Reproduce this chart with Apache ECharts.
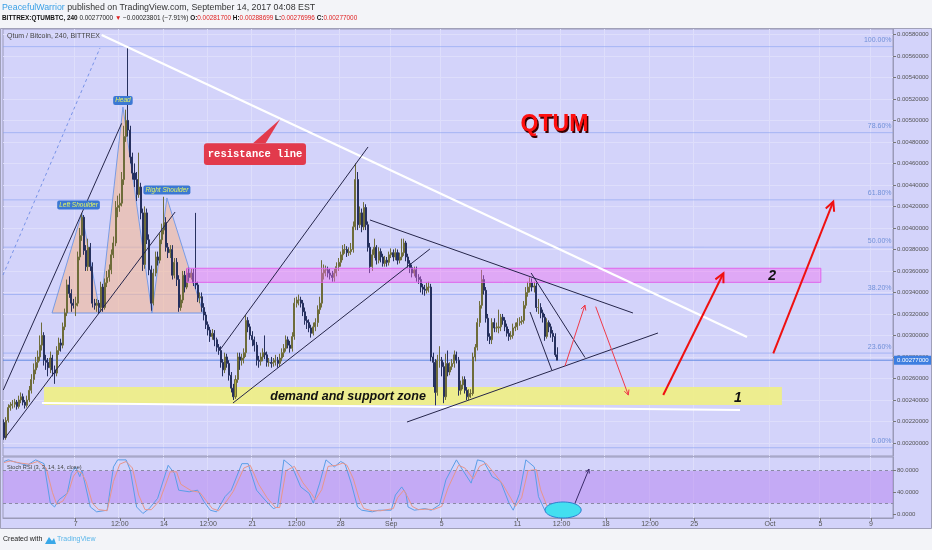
<!DOCTYPE html>
<html><head><meta charset="utf-8">
<script src="https://cdn.jsdelivr.net/npm/echarts@6.0.0/dist/echarts.min.js"></script>
<style>html,body{margin:0;padding:0;background:#f1f3f8;overflow:hidden}#c{width:932px;height:550px}</style>
</head><body><div id="c"></div><script>
// ---------- DATA (prices in units of 0.00001 BTC) ----------
const candles = [
[219,205,203,222],[205,221,203,224],[221,233,219,236],[233,235,230,238],[235,236,232,240],[236,238,233,241],[238,234,231,240],[234,240,232,244],[240,243,237,247],[243,238,235,246],
[238,235,232,240],[235,240,233,244],[240,249,238,253],[249,259,246,264],[259,268,255,274],[268,275,264,280],[275,280,270,286],[280,291,276,300],[291,300,286,312],[300,277,272,303],
[277,275,268,282],[275,270,262,279],[270,279,265,285],[279,268,262,282],[268,265,255,272],[265,286,262,290],[286,293,282,298],[293,291,285,297],[291,308,288,312],[308,321,305,325],
[321,347,318,352],[347,339,335,355],[339,330,322,343],[330,328,325,334],[328,330,318,336],[330,373,327,378],[373,393,370,400],[393,410,388,414],[410,379,375,412],[379,364,360,384],
[364,382,360,390],[382,364,360,386],[364,330,326,368],[330,328,324,334],[328,330,322,334],[330,326,320,333],[326,345,322,350],[345,326,322,348],[326,349,324,353],[349,354,345,360],
[354,361,350,366],[361,375,357,380],[375,386,372,392],[386,419,383,425],[419,421,410,430],[421,423,415,432],[423,445,420,452],[445,485,440,495],[485,500,480,510],[500,491,485,568],
[491,466,460,495],[466,451,445,470],[451,445,438,460],[445,431,425,452],[431,438,428,470],[438,414,408,442],[414,366,360,418],[366,414,362,420],[414,389,385,418],[389,361,356,394],
[361,330,323,365],[330,358,328,362],[358,373,355,378],[373,370,365,378],[370,389,367,395],[389,398,385,404],[398,405,394,429],[405,382,378,410],[382,377,372,386],[377,380,372,384],
[380,356,352,384],[356,368,353,372],[368,352,346,372],[352,326,322,356],[326,333,323,338],[333,356,330,360],[356,345,340,360],[345,358,343,362],[358,354,350,363],[354,358,352,362],
[358,349,346,362],[349,347,343,414],[347,335,331,350],[335,336,330,340],[336,326,322,340],[326,319,314,330],[319,310,306,322],[310,305,300,313],[305,299,294,308],[299,302,296,306],
[302,296,290,305],[296,289,285,298],[289,286,282,292],[286,275,270,290],[275,268,262,278],[268,280,265,284],[280,274,270,283],[274,263,258,277],[263,251,247,266],[251,243,240,255],
[243,259,241,263],[259,280,256,284],[280,277,268,284],[277,279,272,283],[279,284,274,288],[284,314,280,319],[314,308,303,317],[308,300,296,311],[300,296,290,304],[296,291,285,299],
[291,277,272,294],[277,276,270,281],[276,280,272,284],[280,284,276,288],[284,282,278,300],[282,275,271,285],[275,275,271,279],[275,274,270,280],[274,275,271,279],[275,277,272,282],
[277,274,270,280],[274,279,271,283],[279,284,276,288],[284,288,280,292],[288,296,285,300],[296,291,288,299],[291,288,284,295],[288,299,285,303],[299,330,296,335],[330,333,326,336],
[333,333,328,338],[333,330,326,336],[330,322,318,333],[322,314,310,326],[314,312,306,318],[312,307,303,315],[307,302,298,310],[302,308,300,312],[308,312,304,316],[312,324,308,328],
[324,330,320,336],[330,358,326,370],[358,361,352,366],[361,361,355,365],[361,358,354,364],[358,356,352,362],[356,354,350,360],[354,358,350,362],[358,364,355,368],[364,368,360,372],
[368,375,364,378],[375,380,370,384],[380,380,376,385],[380,377,373,383],[377,378,374,382],[378,380,375,386],[380,401,377,406],[401,445,398,460],[445,403,398,452],[403,414,400,420],
[414,401,396,418],[401,419,398,424],[419,403,398,422],[403,382,378,406],[382,364,358,386],[364,375,360,380],[375,382,372,390],[382,370,366,384],[370,378,367,382],[378,373,368,381],
[373,367,364,376],[367,370,364,374],[370,368,364,373],[368,375,365,378],[375,377,372,381],[377,373,369,380],[373,377,370,381],[377,370,366,380],[370,373,367,377],[373,377,370,390],
[377,386,374,390],[386,373,369,388],[373,367,363,376],[367,363,358,370],[363,358,354,366],[358,361,355,364],[361,354,350,364],[354,352,348,357],[352,345,340,355],[345,343,338,348],
[343,342,337,347],[342,345,339,349],[345,345,340,350],[345,280,276,348],[280,275,252,284],[275,247,235,278],[247,277,244,282],[277,277,270,290],[277,271,262,280],[271,243,237,275],
[243,274,240,283],[274,266,262,286],[266,271,263,275],[271,274,268,278],[274,282,270,286],[282,277,274,285],[277,249,244,280],[249,254,245,258],[254,259,250,262],[259,249,246,262],
[249,243,240,252],[243,246,240,250],[246,246,242,250],[246,280,244,284],[280,289,276,292],[289,312,286,316],[312,328,308,332],[328,352,325,361],[352,342,338,356],[342,316,312,345],
[316,299,295,320],[299,296,292,302],[296,312,292,316],[312,307,303,316],[307,307,303,312],[307,308,302,324],[308,317,304,320],[317,314,310,320],[314,308,304,317],[308,302,299,311],
[302,299,295,306],[299,300,296,304],[300,307,297,311],[307,308,304,312],[308,312,305,316],[312,313,309,317],[313,314,310,318],[314,328,311,332],[328,340,325,345],[340,345,336,350],
[345,349,340,354],[349,345,341,353],[345,346,340,350],[346,326,322,349],[326,326,320,334],[326,321,316,330],[321,317,312,324],[317,299,295,320],[299,312,297,316],[312,308,303,314],
[308,302,298,311],[302,299,294,305],[299,282,280,302],[282,277,277,289]
];
const stochK = [[0,97],[2,100],[6,95],[11,90],[15,100],[19,93],[22,20],[24,13],[26,26],[30,38],[32,75],[34,87],[36,69],[37,81],[41,13],[44,4],[49,7],[52,87],[54,100],[58,100],[60,81],[63,13],[66,1],[69,10],[73,29],[78,90],[81,75],[83,44],[88,41],[92,44],[95,23],[98,7],[101,4],[105,32],[108,44],[113,93],[116,93],[120,44],[124,26],[128,10],[130,13],[133,100],[137,87],[141,50],[145,38],[147,20],[150,57],[153,100],[157,87],[160,97],[162,93],[165,57],[168,13],[170,7],[175,4],[178,7],[184,7],[186,35],[189,50],[191,38],[192,13],[195,7],[200,10],[203,7],[207,17],[210,63],[215,100],[218,81],[222,57],[225,100],[228,97],[232,69],[236,60],[240,20],[242,7],[245,38],[248,100],[252,87],[254,32],[257,7],[261,1],[263,0]];
const stochD = [[0,95],[3,98],[8,94],[12,92],[16,97],[20,85],[23,40],[25,18],[28,24],[31,45],[33,70],[35,80],[37,75],[39,60],[42,20],[45,8],[49,6],[52,60],[55,92],[58,97],[61,85],[64,35],[67,8],[70,8],[74,25],[79,78],[82,78],[84,55],[89,43],[93,40],[96,25],[99,10],[102,6],[106,25],[109,42],[114,85],[117,90],[121,55],[125,30],[129,12],[131,12],[134,80],[138,88],[142,58],[146,38],[148,26],[151,45],[154,88],[158,90],[161,94],[163,90],[166,65],[169,25],[171,10],[175,6],[179,6],[185,10],[187,30],[190,44],[192,30],[194,14],[197,8],[201,9],[204,8],[208,14],[211,48],[216,90],[219,85],[223,65],[226,88],[229,94],[233,75],[237,55],[241,28],[243,14],[246,30],[249,80],[253,82],[255,45],[258,15],[262,4],[263,2]];
const priceTicks = [200,220,240,260,280,300,320,340,360,380,400,420,440,460,480,500,520,540,560,580];
const stochTicks = [0,40,80];
const stochBand = [20,80];
const timeTicks = [['08-07 00:00','7'],['08-10 12:00','12:00'],['08-14 00:00','14'],['08-17 12:00','12:00'],['08-21 00:00','21'],['08-24 12:00','12:00'],['08-28 00:00','28'],['09-01 00:00','Sep'],['09-05 00:00','5'],['09-11 00:00','11'],['09-14 12:00','12:00'],['09-18 00:00','18'],['09-21 12:00','12:00'],['09-25 00:00','25'],['10-01 00:00','Oct'],['10-05 00:00','5'],['10-09 00:00','9']];
const fibLevels = [[568.6,'100.00%'],[488.6,'78.60%'],[426.1,'61.80%'],[382.1,'50.00%'],[338.1,'38.20%'],[283.6,'23.60%'],[195.6,'0.00%']];
const lastPrice = 277;
// drawings, in (candle index, price) units
const resistanceLine = [[46.4,579.4],[353.1,298.6]];
const supportLine = [[18,237.2],[349.8,230.7]];
const blackLines = [
  [[-0.36,249.3],[55.9,497.3]], [[0.45,204.7],[81.3,414.8]],
  [[102.6,286.5],[173,475.3]], [[108.8,237.2],[202.4,380.4]],
  [[173.9,407.4],[298.9,320.9]], [[191.5,219.5],[310.8,302.3]],
  [[250.5,358.1],[276.1,279.5]], [[250,321.8],[260.3,267.9]]
];
const fibTrendLine = [[-0.5,356.2],[45.6,567.4]];
const thinArrows = [[[266.6,271.6],[276.1,328.3]], [[281.2,326.8],[296.7,244.6]]];
const thickArrows = [[[313.3,244.6],[341.9,357.8]], [[365.6,283.4],[394.1,424.4]]];
const hsPolygon = [[22.8,320.9],[37.0,413.9],[45.6,320.9],[56.5,512.5],[70.3,320.9],[77.4,427.9],[94.6,320.9]];
const pinkZone = [[86.8,349.4],[388.2,362.5]];
const yellowZone = [[19.0,235.3],[369.7,252]];
const calloutBox = [[95,478.7],[143.5,458.5]];
const calloutTip = [[118.3,478.7],[131.2,501],[124.3,478.7]];
const notes = [['QTUM',[261.6,495.7]],['demand and support zone',[163.5,242.8]],['1',[348.8,241.9]],['2',[365,355.3]],['resistance line',[119.3,468.6]]];
const patternLabels = [['Head',[56.5,518.5]],['Left Shoulder',[35.4,421.3]],['Right Shoulder',[77.4,435.3]]];
const stochEllipse = [265.7,7.4,8.6,14.8];
const stochArrow = [[271.4,20.3],[278,83]];

// ---------- AXIS SLOTS (4h bars from Aug 1 08:00) ----------
const categories = [];
for (let i = 0; i < 423; i++) {
  const d = new Date(Date.UTC(2017, 7, 1, 8) + i * 4 * 3600 * 1000);
  const p = n => String(n).padStart(2, '0');
  categories.push(p(d.getUTCMonth() + 1) + '-' + p(d.getUTCDate()) + ' ' + p(d.getUTCHours()) + ':00');
}
const tickMap = new Map(timeTicks);
const isTick = (idx, val) => tickMap.has(val);

const SANS = '"Liberation Sans", Arial, sans-serif';
const BG = '#d3d3fa';
const GRIDLINE = '#dedefb';
const AXISC = '#9a9ab8';

function ln(api, a, b, stroke, w, dash) {
  const p1 = api.coord(a), p2 = api.coord(b);
  return {type: 'line', shape: {x1: p1[0], y1: p1[1], x2: p2[0], y2: p2[1]}, style: {stroke, lineWidth: w, lineDash: dash || null}};
}
function arrow(api, a, b, stroke, w, head) {
  const p1 = api.coord(a), p2 = api.coord(b);
  const dx = p2[0] - p1[0], dy = p2[1] - p1[1], L = Math.hypot(dx, dy), ux = dx / L, uy = dy / L;
  const bx = p2[0] - ux * head, by = p2[1] - uy * head, nx = -uy * head * 0.5, ny = ux * head * 0.5;
  return [
    {type: 'line', shape: {x1: p1[0], y1: p1[1], x2: p2[0], y2: p2[1]}, style: {stroke, lineWidth: w}},
    {type: 'polyline', shape: {points: [[bx + nx, by + ny], [p2[0], p2[1]], [bx - nx, by - ny]]}, style: {stroke, lineWidth: w, fill: null}}
  ];
}
function rectEl(api, a, b, fill, stroke) {
  const p1 = api.coord(a), p2 = api.coord(b);
  return {type: 'rect', shape: {x: Math.min(p1[0], p2[0]), y: Math.min(p1[1], p2[1]), width: Math.abs(p2[0] - p1[0]), height: Math.abs(p2[1] - p1[1])}, style: {fill, stroke: stroke || null, lineWidth: 1}};
}

function renderUnder(params, api) {
  const ch = [];
  fibLevels.forEach(f => ch.push(ln(api, [-0.5, f[0]], [422.5, f[0]], 'rgba(135,160,240,0.6)', 1)));
  ch.push(rectEl(api, yellowZone[0], yellowZone[1], 'rgba(240,240,128,0.88)'));
  ch.push({type: 'polygon', shape: {points: hsPolygon.map(p => api.coord(p))}, style: {fill: 'rgba(245,185,150,0.6)', stroke: 'rgba(110,150,230,0.9)', lineWidth: 1}});
  ch.push(ln(api, [-0.5, lastPrice], [422.5, lastPrice], 'rgba(70,120,220,0.8)', 1));
  return {type: 'group', children: ch};
}

function renderOver(params, api) {
  const ch = [];
  ch.push(rectEl(api, pinkZone[0], pinkZone[1], 'rgba(240,110,240,0.42)', 'rgba(225,90,235,0.9)'));
  ch.push(ln(api, supportLine[0], supportLine[1], '#ffffff', 2));
  ch.push(ln(api, resistanceLine[0], resistanceLine[1], '#ffffff', 2.2));
  ch.push(ln(api, fibTrendLine[0], fibTrendLine[1], 'rgba(110,140,230,0.9)', 1, [3, 3]));
  blackLines.forEach(l => ch.push(ln(api, l[0], l[1], '#25254a', 1)));
  thinArrows.forEach(a => ch.push(...arrow(api, a[0], a[1], '#f03a4a', 1, 5)));
  thickArrows.forEach(a => ch.push(...arrow(api, a[0], a[1], '#f01010', 2, 9)));
  ch.push({type: 'polygon', shape: {points: calloutTip.map(p => api.coord(p))}, style: {fill: '#e23a4c'}});
  const b1 = api.coord(calloutBox[0]), b2 = api.coord(calloutBox[1]);
  ch.push({type: 'rect', shape: {x: b1[0], y: b1[1], width: b2[0] - b1[0], height: b2[1] - b1[1], r: 3}, style: {fill: '#e23a4c'}});
  fibLevels.forEach(f => {
    const p = api.coord([421.8, f[0]]);
    ch.push({type: 'text', x: p[0], y: p[1] - 3, style: {text: f[1], fill: '#7090d8', font: '7px ' + SANS, align: 'right', verticalAlign: 'bottom'}});
  });
  notes.forEach((n, k) => {
    const p = api.coord(n[1]);
    if (k === 0) {
      ch.push({type: 'text', x: p[0] + 1.5, y: p[1] + 1.5, style: {text: n[0], fill: '#3a0000', font: 'bold 23px ' + SANS, align: 'center', verticalAlign: 'middle'}});
      ch.push({type: 'text', x: p[0], y: p[1], style: {text: n[0], fill: '#ff1010', font: 'bold 23px ' + SANS, align: 'center', verticalAlign: 'middle'}});
    } else if (k === 4) {
      ch.push({type: 'text', x: p[0], y: p[1], style: {text: n[0], fill: '#ffffff', font: 'bold 10.5px "Liberation Mono", monospace', align: 'center', verticalAlign: 'middle'}});
    } else {
      const sz = k === 1 ? 12.5 : 14;
      ch.push({type: 'text', x: p[0], y: p[1], style: {text: n[0], fill: '#111111', font: 'italic bold ' + sz + 'px ' + SANS, align: 'center', verticalAlign: 'middle'}});
    }
  });
  patternLabels.forEach(l => {
    const p = api.coord(l[1]);
    ch.push({type: 'text', x: p[0], y: p[1], style: {text: l[0], fill: '#e4f560', font: 'italic 6.5px ' + SANS, align: 'center', verticalAlign: 'middle', backgroundColor: '#3b78d4', padding: [1, 2], borderRadius: 2}});
  });
  const lp = api.coord([422.5, lastPrice]);
  ch.push({type: 'text', x: lp[0] + 1, y: lp[1], style: {text: (lastPrice / 1e5).toFixed(8), fill: '#ffffff', font: '6px ' + SANS, align: 'left', verticalAlign: 'middle', backgroundColor: '#3d7ee0', padding: [2, 3, 1, 3]}});
  return {type: 'group', children: ch};
}

function renderStoch(params, api) {
  const c = api.coord([stochEllipse[0], stochEllipse[1]]);
  const s = api.size([stochEllipse[2], stochEllipse[3]]);
  const pts = [];
  for (let k = 0; k < 48; k++) { const a = k / 48 * Math.PI * 2; pts.push([c[0] + s[0] * Math.cos(a), c[1] + s[1] * Math.sin(a)]); }
  return {type: 'group', children: [
    {type: 'polygon', shape: {points: pts}, style: {fill: '#43dff0', stroke: '#2f7fd0', lineWidth: 1}},
    ...arrow(api, stochArrow[0], stochArrow[1], '#3a2a6a', 1, 4)
  ]};
}

const chart = echarts.init(document.getElementById('c'));
const xCat = (gi, labels) => ({
  type: 'category', gridIndex: gi, data: categories, boundaryGap: true,
  axisLine: {show: labels, onZero: false, lineStyle: {color: AXISC}},
  axisTick: {show: labels, interval: isTick, alignWithLabel: true, length: 3, lineStyle: {color: '#777'}},
  axisLabel: {show: labels, interval: isTick, formatter: v => tickMap.get(v) || '', fontSize: 7, color: '#555', margin: 3, fontFamily: SANS},
  splitLine: {show: true, interval: isTick, lineStyle: {color: GRIDLINE, width: 1}}
});
chart.setOption({
  animation: false,
  backgroundColor: BG,
  grid: [
    {left: 3, top: 29, width: 890, height: 427, show: true, borderColor: AXISC, borderWidth: 1, backgroundColor: 'transparent'},
    {left: 3, top: 457, width: 890, height: 61, show: true, borderColor: AXISC, borderWidth: 1, backgroundColor: 'transparent'}
  ],
  xAxis: [
    xCat(0, false), xCat(1, true),
    {type: 'value', gridIndex: 0, min: -0.5, max: 422.5, show: false},
    {type: 'value', gridIndex: 1, min: -0.5, max: 422.5, show: false}
  ],
  yAxis: [
    {type: 'value', gridIndex: 0, position: 'right', min: 187.9, max: 585.0,
     axisLine: {show: true, onZero: false, lineStyle: {color: AXISC}},
     axisTick: {show: true, length: 3, customValues: priceTicks, lineStyle: {color: '#777'}},
     axisLabel: {customValues: priceTicks, formatter: v => (v / 1e5).toFixed(8), fontSize: 6, color: '#555', margin: 4, fontFamily: SANS},
     splitLine: {show: true, lineStyle: {color: GRIDLINE}}},
    {type: 'value', gridIndex: 1, position: 'right', min: -7.4, max: 105.3,
     axisLine: {show: true, onZero: false, lineStyle: {color: AXISC}},
     axisTick: {show: true, length: 3, customValues: stochTicks, lineStyle: {color: '#777'}},
     axisLabel: {customValues: stochTicks, formatter: v => v.toFixed(4), fontSize: 6, color: '#555', margin: 4, fontFamily: SANS},
     splitLine: {show: false}}
  ],
  series: [
    {type: 'custom', xAxisIndex: 2, yAxisIndex: 0, z: 1, silent: true, data: [[0, 300]], renderItem: renderUnder},
    {type: 'candlestick', xAxisIndex: 0, yAxisIndex: 0, z: 3, data: candles, barWidth: '72%',
     itemStyle: {color: '#b4b23c', color0: '#22306a', borderColor: '#6e6c3a', borderColor0: '#26305e', borderWidth: 1}},
    {type: 'custom', xAxisIndex: 2, yAxisIndex: 0, z: 5, silent: true, data: [[0, 300]], renderItem: renderOver},
    {type: 'line', xAxisIndex: 1, yAxisIndex: 1, data: stochK, showSymbol: false, z: 4,
     lineStyle: {color: '#5a9ee8', width: 1},
     markArea: {silent: true, itemStyle: {color: 'rgba(181,129,239,0.5)'}, data: [[{yAxis: stochBand[0]}, {yAxis: stochBand[1]}]]},
     markLine: {silent: true, symbol: 'none', label: {show: false}, lineStyle: {color: '#8a8aa5', type: [3, 3], width: 1}, data: [{yAxis: stochBand[0]}, {yAxis: stochBand[1]}]}},
    {type: 'line', xAxisIndex: 1, yAxisIndex: 1, data: stochD, showSymbol: false, z: 4, lineStyle: {color: '#e8968c', width: 1}},
    {type: 'custom', xAxisIndex: 3, yAxisIndex: 1, z: 6, silent: true, data: [[0, 50]], renderItem: renderStoch}
  ],
  graphic: [
    {type: 'rect', z: 100, shape: {x: 0, y: 0, width: 932, height: 28.5}, style: {fill: '#f3f4f8'}},
    {type: 'rect', z: 100, shape: {x: 0, y: 528.5, width: 932, height: 22}, style: {fill: '#f3f4f8'}},
    {type: 'rect', z: 101, shape: {x: 0.5, y: 28.5, width: 931, height: 500}, style: {fill: null, stroke: '#a0a0b8', lineWidth: 1}},
    {type: 'text', z: 102, x: 2, y: 3, style: {text: '{a|PeacefulWarrior}{b| published on TradingView.com, September 14, 2017 04:08 EST}', font: '8.8px ' + SANS, rich: {a: {fill: '#3aa0e6', font: '8.8px ' + SANS}, b: {fill: '#333', font: '8.8px ' + SANS}}}},
    {type: 'text', z: 102, x: 2, y: 15, style: {text: '{b|BITTREX:QTUMBTC, 240} {n|0.00277000} {r|\u25BC} {n|\u22120.00023801 (\u22127.91%)} {b|O:}{r|0.00281700} {b|H:}{r|0.00288699} {b|L:}{r|0.00276996} {b|C:}{r|0.00277000}', font: '6.4px ' + SANS, rich: {b: {fill: '#111', font: 'bold 6.4px ' + SANS}, n: {fill: '#222', font: '6.4px ' + SANS}, r: {fill: '#e02020', font: '6.4px ' + SANS}}}},
    {type: 'text', z: 102, x: 7, y: 33, style: {text: 'Qtum / Bitcoin, 240, BITTREX', fill: '#444', font: '7px ' + SANS}},
    {type: 'text', z: 102, x: 7, y: 464, style: {text: 'Stoch RSI (3, 3, 14, 14, close)', fill: '#444', font: '5.6px ' + SANS}},
    {type: 'text', z: 102, x: 3, y: 536, style: {text: 'Created with', fill: '#222', font: '7px ' + SANS}},
    {type: 'polygon', z: 102, shape: {points: [[45, 544], [49, 537], [52, 541], [54, 538], [56, 544]]}, style: {fill: '#3aa8e8'}},
    {type: 'text', z: 102, x: 57, y: 536, style: {text: 'TradingView', fill: '#5ab6ea', font: '7px ' + SANS}}
  ]
});
</script></body></html>
